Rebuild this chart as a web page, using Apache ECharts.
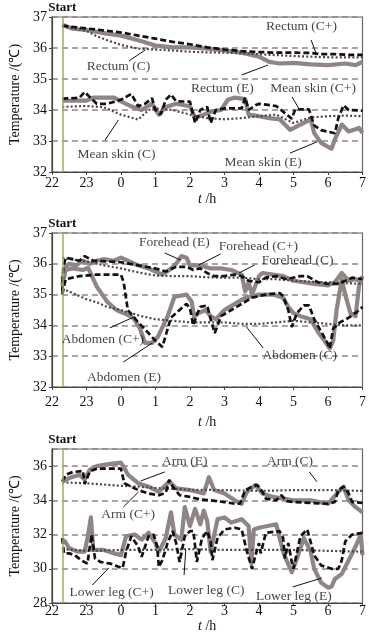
<!DOCTYPE html>
<html><head><meta charset="utf-8">
<script src="https://cdn.jsdelivr.net/npm/echarts@6/dist/echarts.min.js"></script>
<style>html,body{margin:0;padding:0;background:#fff}#c{width:369px;height:639px}</style>
</head><body><div id="c"></div>
<script>
// ---------- DATA (time in hours: 22..31 means 22:00 .. 07:00 next day) ----------
const xTicks = [22,23,24,25,26,27,28,29,30,31];
const startTime = 22.3;

// Panel 1: Rectum / Mean skin
const tRectumCp = [22.3,22.6,23,23.5,24,24.5,25,25.5,26,26.5,27,27.5,28,28.5,29,29.5,29.8,30.2,30.6,31];
const vRectumCp = [36.72,36.68,36.63,36.57,36.5,36.4,36.3,36.2,36.12,36.02,35.95,35.9,35.87,35.85,35.85,35.84,35.8,35.8,35.78,35.78];
const tRectumE = [22.3,22.6,23,23.5,24,24.5,25,25.5,26,26.5,27,27.5,28,28.3,28.6,29,29.5,30,30.5,30.8,31];
const vRectumE = [36.75,36.62,36.58,36.48,36.4,36.25,36.08,36.02,36.02,35.98,35.92,35.85,35.72,35.55,35.5,35.52,35.47,35.45,35.5,35.45,35.55];
const tRectumC = [22.3,22.7,23,23.3,23.6,24,24.5,25,25.5,26,26.5,27,28,29,29.5,30,31];
const vRectumC = [36.7,36.62,36.55,36.38,36.25,36.1,35.98,35.95,35.92,35.88,35.86,35.85,35.8,35.74,35.72,35.7,35.7];
const tSkinCp = [22.3,22.6,22.8,22.95,23.3,23.6,24,24.3,24.5,24.7,24.9,25,25.15,25.3,25.45,25.6,26,26.15,26.3,26.5,26.6,26.75,27,27.5,27.6,27.7,27.9,28,28.5,28.75,28.95,29.05,29.45,29.6,29.8,30.2,30.3,30.45,30.6,31];
const vSkinCp = [34.37,34.38,34.4,34.58,34.2,34.2,34.33,34.52,34.12,34.2,34.38,34.0,33.85,34.33,34.5,34.28,34.27,33.58,34.0,34.1,33.58,34.0,34.05,34.05,34.4,34.0,34.15,34.2,34.13,33.9,33.72,34.02,34.02,33.5,33.35,33.25,33.74,34.15,34.0,33.98];
const tSkinE = [22.3,22.6,23,23.2,23.8,24,24.3,24.6,24.9,25.1,25.3,25.6,26,26.15,26.4,26.6,26.9,27.1,27.3,27.6,27.7,28,28.3,28.6,28.9,29.2,29.5,29.6,29.8,30.1,30.2,30.4,30.6,30.9,31];
const vSkinE = [34.3,34.3,34.3,34.4,34.4,34.28,34.12,34.0,34.2,33.85,34.1,34.2,34.12,33.75,33.85,33.95,34.0,34.33,34.4,34.35,33.85,33.8,33.74,33.7,33.36,33.53,33.7,33.26,32.94,32.75,33.05,33.53,33.31,33.42,33.26];
const tSkinC = [22.3,23,23.5,24,24.5,24.8,25,25.5,26,26.5,27,27.5,28,28.5,29,29.3,29.5,30,30.5,31];
const vSkinC = [34.1,34.13,34.09,33.85,33.69,34.0,34.05,34.0,33.85,33.74,33.7,33.74,33.8,33.85,33.58,33.69,33.76,33.8,33.82,33.8];

// Panel 2: Forehead / Abdomen
const tForeCp = [22.3,22.33,22.4,22.6,22.8,22.95,23.2,23.6,24,24.5,25,25.3,25.6,25.9,26.1,26.3,26.5,26.7,27,27.3,27.5,27.7,28,28.2,28.5,28.8,29.2,29.4,29.7,30,30.3,30.5,30.7,31];
const vForeCp = [35.1,35.9,36.2,36.15,36.1,36.25,36.1,36.08,36.05,35.95,35.85,35.75,35.9,35.9,35.8,35.85,35.7,35.6,35.6,35.65,35.6,35.45,35.4,35.55,35.6,35.5,35.6,35.6,35.4,35.35,35.35,35.45,35.55,35.5];
const tForeE = [22.3,22.4,22.5,22.7,22.9,23.1,23.3,23.5,23.8,24,24.2,24.5,24.8,25,25.2,25.4,25.6,25.75,25.9,26,26.3,26.6,26.9,27.2,27.5,27.6,27.7,27.8,27.9,28.0,28.1,28.4,28.7,29,29.3,29.6,30,30.2,30.4,30.6,30.8,31];
const vForeE = [35.5,35.9,36.0,35.95,36.1,36.0,36.1,36.15,36.1,36.2,36.1,35.95,35.85,35.75,35.65,35.8,36.0,36.25,36.2,35.95,35.95,35.85,35.85,35.8,35.65,35.1,35.4,35.0,35.3,35.6,35.7,35.65,35.6,35.45,35.4,35.35,35.3,35.4,35.7,35.45,35.5,35.4];
const tForeC = [22.3,22.8,23.2,23.5,24,24.5,25,25.5,26,26.5,27,27.5,28,28.5,29,29.5,30,30.5,31];
const vForeC = [36.2,36.1,36.05,35.95,35.85,35.72,35.62,35.6,35.6,35.56,35.55,35.55,35.5,35.5,35.45,35.42,35.4,35.37,35.35];
const tAbdCp = [22.3,22.4,22.6,22.8,23.3,23.8,24,24.08,24.2,24.5,24.8,25.0,25.2,25.45,25.7,25.9,26.0,26.1,26.2,26.3,26.5,26.6,26.72,26.9,27.2,27.5,27.8,28.2,28.6,28.7,28.85,28.95,29.1,29.3,29.45,29.6,29.8,30,30.05,30.15,30.35,30.6,30.85,31];
const vAbdCp = [35.0,35.5,35.55,35.6,35.65,35.65,35.65,35.4,34.5,34.1,33.75,33.5,33.3,34.25,34.5,34.7,34.55,34.0,34.35,34.6,34.65,34.2,33.75,34.3,34.5,34.7,34.9,35.0,35.05,34.95,34.5,33.95,34.4,34.65,34.65,34.2,33.8,33.4,33.25,33.9,34.1,34.25,34.45,34.6];
const tAbdE = [22.3,22.4,22.6,22.9,23.05,23.3,23.6,23.87,24.2,24.37,24.55,24.7,24.9,25.07,25.35,25.55,25.9,26.05,26.12,26.25,26.45,26.6,26.75,27,27.3,27.6,28,28.4,28.7,28.85,29,29.2,29.5,29.7,29.9,30.05,30.15,30.25,30.4,30.5,30.65,30.8,30.9,31];
const vAbdE = [35.3,35.8,35.85,35.8,35.87,35.26,34.77,34.5,34.34,34.23,33.9,33.43,33.43,33.63,34.28,34.93,35.0,34.77,34.28,34.4,34.5,34.3,34.2,34.5,34.7,34.9,35.0,35.0,34.9,34.6,34.4,34.3,34.2,33.8,33.5,33.25,33.5,34.5,35.5,35.0,34.4,34.3,35.3,35.6];
const tAbdC = [22.3,22.6,23,23.3,23.6,24,24.3,24.6,25,25.5,26,26.5,27,27.5,28,28.5,29,29.5,30,30.5,31];
const vAbdC = [35.2,35.05,34.85,34.75,34.6,34.5,34.4,34.3,34.2,34.15,34.1,34.1,34.1,34.05,34.05,34.1,34.15,34.1,34.05,34.0,34.0];

// Panel 3: Arm / Lower leg
const tArmCp = [22.3,22.4,22.6,22.9,22.95,23.1,23.3,23.6,24,24.1,24.3,24.5,24.8,25.1,25.3,25.4,25.5,25.7,26,26.3,26.6,27,27.3,27.45,27.6,27.8,27.95,28.1,28.2,28.5,28.65,28.8,29,29.5,30,30.2,30.3,30.45,30.6,30.7,31];
const vArmCp = [35.1,35.5,35.65,35.72,34.95,35.7,35.85,35.85,35.85,35.0,34.8,34.6,34.4,34.3,34.45,35.2,34.8,34.3,34.2,34.05,34.0,33.9,33.8,33.8,34.6,34.8,34.9,34.5,34.1,34.0,34.3,33.95,33.9,33.85,33.8,33.9,34.6,34.8,34.4,33.9,33.85];
const tArmE = [22.3,22.5,22.8,22.95,23.1,23.3,23.6,24,24.1,24.2,24.5,24.8,25.1,25.4,25.6,26,26.4,26.55,26.7,27,27.3,27.5,27.65,27.9,28.1,28.4,28.7,29,29.5,30,30.3,30.45,30.6,30.8,31];
const vArmE = [35.1,35.3,35.5,35.2,35.8,36.0,36.1,36.2,35.9,35.5,35.0,34.8,34.5,35.1,34.7,34.6,34.4,35.35,34.6,34.4,34.0,33.8,34.5,34.9,34.4,34.2,34.1,34.0,34.0,33.8,34.5,34.8,34.0,33.6,33.3];
const tArmC = [22.3,23,23.5,24,24.5,25,26,27,28,29,30,31];
const vArmC = [35.05,35.0,34.92,34.85,34.8,34.72,34.62,34.6,34.55,34.6,34.6,34.55];
const tLegCp = [22.3,22.35,22.5,22.66,22.85,23.03,23.1,23.15,23.25,23.4,23.7,23.95,24.05,24.15,24.3,24.5,24.6,24.8,24.95,25.05,25.1,25.2,25.35,25.5,25.6,25.7,25.85,26.0,26.1,26.2,26.35,26.5,26.6,26.65,26.8,27.0,27.3,27.5,27.65,27.8,27.9,28.0,28.05,28.2,28.6,28.7,28.75,28.85,28.95,29.0,29.2,29.4,29.6,29.8,30.1,30.3,30.4,30.5,30.7,31];
const vLegCp = [31.8,30.9,30.9,30.8,30.5,30.3,31.3,32.0,30.6,30.4,30.3,30.1,30.05,31.0,31.9,31.3,30.7,31.9,32.0,31.3,30.1,30.5,31.5,32.2,31.5,30.4,31.9,32.2,32.2,30.4,31.8,32.2,31.6,30.5,31.8,32.3,32.4,32.3,31.0,30.0,30.8,31.5,30.9,32.1,32.2,31.8,30.6,31.5,30.4,30.0,31.9,32.3,30.8,30.2,30.0,30.0,30.5,31.6,32.0,32.1];
const tLegE = [22.3,22.38,22.5,22.75,22.95,23.05,23.13,23.2,23.5,23.8,24.0,24.15,24.4,24.6,24.8,25.0,25.1,25.3,25.45,25.55,25.75,25.85,26.0,26.15,26.3,26.4,26.5,26.6,26.8,27.0,27.2,27.5,27.7,27.78,27.85,28.0,28.5,28.7,28.8,28.95,29.1,29.3,29.5,29.6,29.8,30.0,30.1,30.2,30.4,30.6,30.8,30.95,31];
const vLegE = [31.7,31.6,31.2,31.0,31.0,32.0,33.0,31.1,31.1,30.9,30.8,31.9,32.0,31.7,32.1,31.5,31.0,31.8,33.3,32.0,31.7,33.6,32.5,33.5,32.6,33.4,32.8,31.0,32.9,33.0,32.7,32.9,32.5,30.3,32.3,32.4,32.6,31.0,30.5,29.8,30.6,31.8,31.0,30.0,29.2,28.9,28.95,29.4,29.7,30.5,31.3,32.0,30.8];
const tLegC = [22.3,23,24,25,26,27,28,29,30,31];
const vLegC = [31.15,31.05,31.1,31.1,31.15,31.1,31.1,31.1,31.05,31.0];

// Annotation texts
const names1 = ['Rectum (C+)','Rectum (C)','Rectum (E)','Mean skin (C+)','Mean skin (C)','Mean skin (E)'];
const names2 = ['Forehead (E)','Forehead (C+)','Forehead (C)','Abdomen (C+)','Abdomen (E)','Abdomen (C)'];
const names3 = ['Arm (E)','Arm (C)','Arm (C+)','Lower leg (C+)','Lower leg (C)','Lower leg (E)'];

// ---------- LAYOUT (annotation anchor positions, in axis units) ----------
const labelPos1 = [[29.23,36.68],[23.93,35.39],[26.94,34.71],[29.57,34.71],[23.87,32.58],[28.12,32.32]];
const leaderPos1 = [[29.51,36.26,29.65,35.84],[24.23,35.58,24.71,35.94],[27.5,35.13,28.26,35.45],[28.96,34.42,29.18,34.0],[23.54,33.03,23.93,33.68],[28.9,32.61,29.68,32.97]];
const labelPos2 = [[25.55,36.68],[27.98,36.55],[29.12,36.12],[23.48,33.53],[24.09,32.32],[29.18,33.04]];
const leaderPos2 = [[25.27,36.35,25.74,36.12],[26.89,36.32,26.25,35.96],[27.87,35.96,27.42,35.70],[23.68,33.92,24.37,34.27],[24.07,32.81,24.91,33.43],[28.12,33.27,27.64,33.95]];
const labelPos3 = [[25.85,36.25],[28.9,36.25],[24.21,33.15],[23.73,28.64],[26.47,28.76],[29.01,28.41]];
const leaderPos3 = [[25.27,35.66,24.57,35.13],[29.46,35.66,29.68,35.08],[24.07,33.61,24.51,34.49],[23.17,29.05,23.65,30.05],[25.83,29.64,25.88,31.1],[28.98,28.94,29.82,29.46]];

const FONT = 'Liberation Serif';
const GRAY = '#8f8585';
const zip = (t, v) => t.map((x, i) => [x, v[i]]);

const styleE  = {color: GRAY, width: 4.2, type: 'solid', join: 'round'};
const styleCp = {color: '#111', width: 2.7, type: [6, 3]};
const styleC  = {color: '#4f4545', width: 2.2, type: [2, 2.2]};

function line(t, v, st, idx) {
  return {type: 'line', xAxisIndex: idx, yAxisIndex: idx, data: zip(t, v), showSymbol: false,
    symbol: 'none', lineStyle: st, silent: true, animation: false, z: st === styleE ? 2 : (st === styleCp ? 4 : 3)};
}
function annot(names, pos, leaders, idx) {
  return {type: 'scatter', xAxisIndex: idx, yAxisIndex: idx, symbolSize: 0, silent: true, animation: false, z: 10,
    data: names.map((n, i) => ({name: n, value: pos[i]})),
    label: {show: true, position: 'inside', formatter: '{b}', fontFamily: FONT, fontSize: 13.5, color: '#111'},
    markLine: {symbol: 'none', silent: true, animation: false,
      label: {show: false},
      lineStyle: {color: '#111', width: 1, type: 'solid'},
      data: leaders.map(l => [{coord: [l[0], l[1]]}, {coord: [l[2], l[3]]}]).concat([
        {xAxis: startTime, lineStyle: {color: '#9fae5e', width: 1.5, type: 'solid'},
         label: {show: true, position: 'end', formatter: 'Start', fontFamily: FONT, fontSize: 13, fontWeight: 'bold', color: '#111', distance: 3}}
      ])}
  };
}

const grids = [
  {left: 42, top: 17, width: 323, height: 155},
  {left: 42, top: 233, width: 323, height: 154},
  {left: 42, top: 449, width: 323, height: 154}
];
const yRanges = [[32, 37, 1], [32, 37, 1], [28, 37, 2]];
const labelMargins = [4, 8, 1];
const nameGaps = [20, 28, 12];

const option = {
  backgroundColor: '#fff',
  animation: false,
  grid: grids.map(g => Object.assign({show: true, borderColor: '#666', borderWidth: 1.2, containLabel: false}, g)),
  xAxis: grids.map((g, i) => ({
    gridIndex: i, type: 'value', min: 22, max: 31, interval: 1,
    axisLine: {show: true, lineStyle: {color: '#444', width: 1.2}},
    axisTick: {show: true, length: 3, lineStyle: {color: '#444'}},
    splitLine: {show: false},
    axisLabel: {fontFamily: FONT, fontSize: 14, color: '#111', margin: labelMargins[i],
      formatter: v => String(v % 24)},
    name: '{i|t} /h', nameLocation: 'middle', nameGap: nameGaps[i],
    nameTextStyle: {fontFamily: FONT, fontSize: 14, color: '#111',
      rich: {i: {fontFamily: FONT, fontSize: 14, fontStyle: 'italic', color: '#111'}}}
  })),
  yAxis: grids.map((g, i) => ({
    gridIndex: i, type: 'value', min: yRanges[i][0], max: yRanges[i][1], interval: yRanges[i][2],
    axisLine: {show: true, lineStyle: {color: '#444', width: 1.2}},
    axisTick: {show: true, length: 3, lineStyle: {color: '#444'}},
    splitLine: {show: true, lineStyle: {color: GRAY, width: 1.5, type: [6, 4]}},
    axisLabel: {fontFamily: FONT, fontSize: 14, color: '#111', margin: 5, showMaxLabel: i < 2},
    name: 'Temperature /(℃)', nameLocation: 'middle', nameGap: 27, nameRotate: 90,
    nameTextStyle: {fontFamily: FONT, fontSize: 14, color: '#111'}
  })),
  series: [
    line(tRectumE, vRectumE, styleE, 0), line(tRectumC, vRectumC, styleC, 0), line(tRectumCp, vRectumCp, styleCp, 0),
    line(tSkinE, vSkinE, styleE, 0), line(tSkinC, vSkinC, styleC, 0), line(tSkinCp, vSkinCp, styleCp, 0),
    annot(names1, labelPos1, leaderPos1, 0),
    line(tForeE, vForeE, styleE, 1), line(tForeC, vForeC, styleC, 1), line(tForeCp, vForeCp, styleCp, 1),
    line(tAbdE, vAbdE, styleE, 1), line(tAbdC, vAbdC, styleC, 1), line(tAbdCp, vAbdCp, styleCp, 1),
    annot(names2, labelPos2, leaderPos2, 1),
    line(tArmE, vArmE, styleE, 2), line(tArmC, vArmC, styleC, 2), line(tArmCp, vArmCp, styleCp, 2),
    line(tLegE, vLegE, styleE, 2), line(tLegC, vLegC, styleC, 2), line(tLegCp, vLegCp, styleCp, 2),
    annot(names3, labelPos3, leaderPos3, 2)
  ]
};
const chart = echarts.init(document.getElementById('c'), null, {renderer: 'canvas'});
chart.setOption(option);
</script></body></html>
